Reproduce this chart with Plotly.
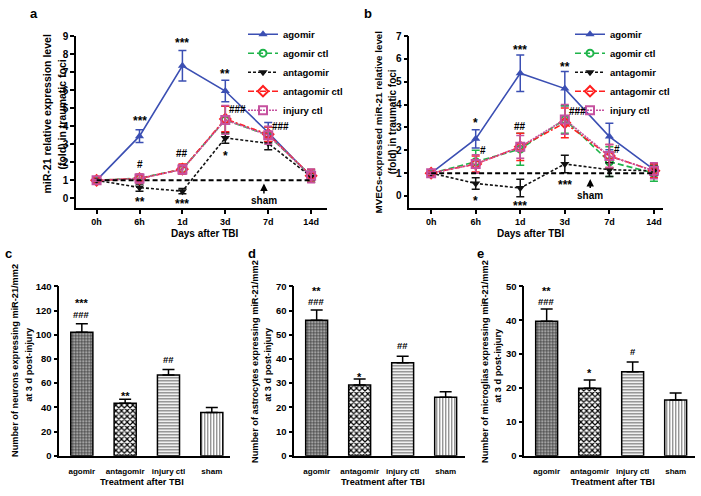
import plotly.graph_objects as go

# ---------------- data ----------------
times = ["0h", "6h", "1d", "3d", "7d", "14d"]

# panel a: miR-21 relative expression level (fold) in traumatic foci
a_agomir = [1.0, 3.45, 7.35, 5.95, 3.65, 1.2]
a_agomir_err = [0.05, 0.35, 0.85, 0.6, 0.55, 0.3]
a_agomir_ctl = [1.0, 1.12, 1.62, 4.35, 3.5, 1.25]
a_agomir_ctl_err = [0.05, 0.2, 0.25, 0.75, 0.45, 0.35]
a_antagomir = [1.0, 0.6, 0.4, 3.35, 3.05, 1.2]
a_antagomir_err = [0.05, 0.2, 0.15, 0.3, 0.35, 0.2]
a_antagomir_ctl = [1.0, 1.1, 1.62, 4.4, 3.55, 1.25]
a_antagomir_ctl_err = [0.05, 0.22, 0.28, 0.7, 0.4, 0.35]
a_injury_ctl = [1.0, 1.1, 1.6, 4.35, 3.5, 1.25]
a_injury_ctl_err = [0.05, 0.25, 0.25, 0.8, 0.5, 0.38]
a_sham = [1.0, 1.0, 1.0, 1.0, 1.0, 1.0]

# panel b: MVECs-expressed miR-21 relative level (fold)
b_agomir = [1.0, 2.5, 5.37, 4.7, 2.6, 1.15]
b_agomir_err = [0.05, 0.4, 0.8, 0.75, 0.58, 0.25]
b_agomir_ctl = [1.0, 1.5, 2.05, 3.35, 1.5, 1.0]
b_agomir_ctl_err = [0.05, 0.5, 0.7, 0.6, 0.65, 0.35]
b_antagomir = [1.0, 0.55, 0.35, 1.4, 1.15, 1.1]
b_antagomir_err = [0.05, 0.25, 0.38, 0.38, 0.3, 0.2]
b_antagomir_ctl = [1.0, 1.4, 2.15, 3.2, 1.75, 1.1]
b_antagomir_ctl_err = [0.05, 0.35, 0.6, 0.65, 0.5, 0.3]
b_injury_ctl = [1.0, 1.4, 2.15, 3.35, 1.75, 1.1]
b_injury_ctl_err = [0.05, 0.4, 0.5, 0.65, 0.5, 0.35]
b_sham = [1.0, 1.0, 1.0, 1.0, 1.0, 1.0]

# panels c, d, e: cells expressing miR-21 / mm2 at 3 d post-injury
bar_cats = ["agomir", "antagomir", "injury ctl", "sham"]
c_neurons = [102, 43.5, 66.8, 35.8]
c_neurons_err = [7, 3.3, 4.5, 4]
d_astro = [56, 29.2, 38.4, 24.2]
d_astro_err = [4.2, 2.5, 2.7, 2.3]
e_micro = [39.7, 19.9, 24.8, 16.5]
e_micro_err = [3.6, 2.5, 2.9, 2.0]

# significance labels (text, x, y)
a_marks = [("***", 1, 4.45), ("***", 2, 8.8), ("**", 3, 7.05), ("#", 1, 1.85),
           ("##", 2, 2.5), ("###", 3.28, 4.9), ("###", 4.29, 4.0), ("*", 3, 2.5),
           ("**", 1, -0.05), ("***", 2, -0.15)]
b_marks = [("*", 1, 3.32), ("#", 1.16, 2.0), ("***", 2, 6.53), ("##", 2, 3.06),
           ("**", 3, 5.77), ("###", 3.28, 3.68), ("#", 4.16, 2.03), ("***", 3, 0.61),
           ("*", 1, -0.1), ("***", 2, -0.31)]
c_marks = [("***", 0, 129), ("###", 0, 116.5), ("**", 1, 52), ("##", 2, 79.5)]
d_marks = [("**", 0, 69.2), ("###", 0, 63.6), ("*", 1, 33.6), ("##", 2, 45.4)]
e_marks = [("**", 0, 49.4), ("###", 0, 45.6), ("*", 1, 25.2), ("#", 2, 30.8)]

# ---------------- styles ----------------
FONT = "Liberation Sans, Arial, sans-serif"
W, H = 701, 496
BLUE, GREEN, BLACK, RED, MAG = "#3b4fb3", "#1fb44a", "#111111", "#ff1f1f", "#c6519f"

styles = {
    "agomir": dict(color=BLUE, dash="solid", symbol="triangle-up", size=8, mlw=0),
    "agomir ctl": dict(color=GREEN, dash="6px,3px", symbol="circle-open", size=7, mlw=2),
    "antagomir": dict(color=BLACK, dash="3px,2px", symbol="triangle-down", size=8, mlw=0),
    "antagomir ctl": dict(color=RED, dash="6px,2px,2px,2px", symbol="diamond-open", size=8, mlw=2),
    "injury ctl": dict(color=MAG, dash="2px,1px", symbol="square-open", size=8, mlw=2),
}

def px_x(p):
    return p / W

def px_y(p):
    return 1 - p / H

fig = go.Figure()
x_idx = list(range(len(times)))

def add_lines(series, sham, xa, ya, legend):
    for name, vals, err in series:
        s = styles[name]
        fig.add_trace(go.Scatter(
            x=x_idx, y=vals, name=name, mode="lines+markers",
            xaxis=xa, yaxis=ya, legend=legend,
            line=dict(color=s["color"], width=1.6, dash=s["dash"]),
            marker=dict(symbol=s["symbol"], size=s["size"], color=s["color"],
                        line=dict(color=s["color"], width=s["mlw"])),
            error_y=dict(type="data", array=err, color=s["color"], thickness=1.5, width=4),
        ))
    fig.add_trace(go.Scatter(
        x=x_idx, y=sham, name="sham", mode="lines", showlegend=False,
        xaxis=xa, yaxis=ya, line=dict(color="black", width=2, dash="5px,3px"),
    ))

add_lines([("agomir", a_agomir, a_agomir_err),
           ("agomir ctl", a_agomir_ctl, a_agomir_ctl_err),
           ("antagomir", a_antagomir, a_antagomir_err),
           ("antagomir ctl", a_antagomir_ctl, a_antagomir_ctl_err),
           ("injury ctl", a_injury_ctl, a_injury_ctl_err)], a_sham, "x", "y", "legend")
add_lines([("agomir", b_agomir, b_agomir_err),
           ("agomir ctl", b_agomir_ctl, b_agomir_ctl_err),
           ("antagomir", b_antagomir, b_antagomir_err),
           ("antagomir ctl", b_antagomir_ctl, b_antagomir_ctl_err),
           ("injury ctl", b_injury_ctl, b_injury_ctl_err)], b_sham, "x2", "y2", "legend2")

bar_patterns = [
    dict(shape="+", fgcolor="#2e2e2e", bgcolor="#a2a2a2", size=3, solidity=0.35),
    dict(shape="x", fgcolor="#000000", bgcolor="#ffffff", size=4, solidity=0.5),
    dict(shape="-", fgcolor="#6a6a6a", bgcolor="#ffffff", size=3, solidity=0.4),
    dict(shape="|", fgcolor="#6a6a6a", bgcolor="#ffffff", size=3, solidity=0.35),
]

for vals, err, xa, ya in [(c_neurons, c_neurons_err, "x3", "y3"),
                          (d_astro, d_astro_err, "x4", "y4"),
                          (e_micro, e_micro_err, "x5", "y5")]:
    for i, cat in enumerate(bar_cats):
        p = bar_patterns[i]
        fig.add_trace(go.Bar(
            x=[cat], y=[vals[i]], xaxis=xa, yaxis=ya, width=0.51, showlegend=False,
            name=cat,
            marker=dict(color=p["bgcolor"], line=dict(color="black", width=1.5),
                        pattern=dict(shape=p["shape"], fgcolor=p["fgcolor"],
                                     bgcolor=p["bgcolor"], size=p["size"],
                                     solidity=p["solidity"], fillmode="replace")),
            error_y=dict(type="data", array=[err[i]], arrayminus=[0],
                         color="black", thickness=1.5, width=6),
        ))

# ---------------- axes ----------------
tickfont = dict(family=FONT, size=10, color="black", weight="bold")
common = dict(showline=True, linecolor="black", linewidth=1.5, ticks="outside",
              ticklen=4, tickwidth=1.5, tickcolor="black", showgrid=False,
              zeroline=False, tickfont=tickfont)
bar_ytick = {**common, "tickfont": dict(family=FONT, size=9.5, color="black", weight="bold")}
xcat_font = dict(family=FONT, size=8, color="black", weight="bold")
xtime_font = dict(family=FONT, size=9, color="black", weight="bold")
catx = {**common, "tickfont": xcat_font, "ticklen": 7,
        "tickcolor": "rgba(0,0,0,0)", "tickangle": 0}

Y_TOP_LINE = 30.7
Y_BOT_LINE = 206.7
fig.update_layout(
    barmode="overlay",
    xaxis=dict(domain=[px_x(76), px_x(327)], range=[-0.48, 5.37], anchor="y",
               tickvals=x_idx, ticktext=times, **{**common, "tickfont": xtime_font}),
    yaxis=dict(domain=[px_y(Y_BOT_LINE), px_y(Y_TOP_LINE)], range=[-0.54, 9], anchor="x",
               tickvals=list(range(0, 10)), **common),
    xaxis2=dict(domain=[px_x(409.3), px_x(663.3)], range=[-0.49, 5.21], anchor="y2",
                tickvals=x_idx, ticktext=times, **{**common, "tickfont": xtime_font}),
    yaxis2=dict(domain=[px_y(Y_BOT_LINE), px_y(Y_TOP_LINE)], range=[-0.53, 7], anchor="x2",
                tickvals=list(range(0, 8)), **common),
    xaxis3=dict(domain=[px_x(59.3), px_x(230)], range=[-0.52, 3.42], anchor="y3", **catx),
    yaxis3=dict(domain=[px_y(460), px_y(286.7)], range=[0, 140], anchor="x3",
                tickvals=list(range(0, 141, 20)), **bar_ytick),
    xaxis4=dict(domain=[px_x(294.3), px_x(465)], range=[-0.52, 3.45], anchor="y4", **catx),
    yaxis4=dict(domain=[px_y(460), px_y(286.7)], range=[0, 70], anchor="x4",
                tickvals=list(range(0, 71, 10)), **bar_ytick),
    xaxis5=dict(domain=[px_x(524.3), px_x(695)], range=[-0.52, 3.45], anchor="y5", **catx),
    yaxis5=dict(domain=[px_y(460), px_y(286.7)], range=[0, 50], anchor="x5",
                tickvals=list(range(0, 51, 10)), **bar_ytick),
)

legend_font = dict(family=FONT, size=9.5, color="black", weight="bold")
fig.update_layout(
    width=W, height=H, margin=dict(l=0, r=0, t=0, b=0),
    paper_bgcolor="white", plot_bgcolor="white",
    legend=dict(x=px_x(243), y=px_y(14), xanchor="left", yanchor="top",
                font=legend_font, bgcolor="rgba(0,0,0,0)", tracegroupgap=0),
    legend2=dict(x=px_x(570), y=px_y(14), xanchor="left", yanchor="top",
                 font=legend_font, bgcolor="rgba(0,0,0,0)", tracegroupgap=0),
)

# ---------------- annotations ----------------
ann = []

def add_marks(marks, xr, yr, star_size=12, hash_size=10):
    for t, x, y in marks:
        star = "*" in t
        ann.append(dict(text=t, x=x, y=y, xref=xr, yref=yr, showarrow=False,
                        font=dict(family=FONT, size=star_size if star else hash_size,
                                  color="black", weight="bold"),
                        xanchor="center", yanchor="middle",
                        yshift=-3 if star else 0))

add_marks(a_marks, "x", "y")
add_marks(b_marks, "x2", "y2")
add_marks(c_marks, "x3", "y3", 11, 9.5)
add_marks(d_marks, "x4", "y4", 11, 9.5)
add_marks(e_marks, "x5", "y5", 11, 9.5)

# sham arrows
ann.append(dict(text="sham", x=3.9, y=0.82, xref="x", yref="y", showarrow=True,
                arrowhead=2, arrowsize=1, arrowwidth=1.5, arrowcolor="black",
                ax=0, ay=17, font=dict(family=FONT, size=10, color="black", weight="bold")))
ann.append(dict(text="sham", x=3.57, y=0.74, xref="x2", yref="y2", showarrow=True,
                arrowhead=2, arrowsize=1, arrowwidth=1.5, arrowcolor="black",
                ax=0, ay=16, font=dict(family=FONT, size=10, color="black", weight="bold")))

def paper_text(t, x, y, angle=0, size=11):
    ann.append(dict(text=t, x=px_x(x), y=px_y(y), xref="paper", yref="paper",
                    showarrow=False, textangle=angle, xanchor="center", yanchor="middle",
                    font=dict(family=FONT, size=size, color="black", weight="bold")))

# axis titles (each line separately, rotated)
paper_text("miR-21 relative expression level", 47, 111, -90, 10.5)
paper_text("(fold) in traumatic foci", 62, 111, -90, 10.5)
paper_text("MVECs-expressed miR-21 relative level", 378, 118, -90, 9.8)
paper_text("(fold) in traumatic foci", 392, 119, -90, 10)
paper_text("Days after TBI", 204, 233, 0, 10)
paper_text("Days after TBI", 530, 233, 0, 10)
paper_text("Number of neurons expressing miR-21/mm2", 15, 363, -90, 9.2)
paper_text("at 3 d post-injury", 29, 367, -90, 9.2)
paper_text("Number of astrocytes expressing miR-21/mm2", 255, 364, -90, 9.2)
paper_text("at 3 d post-injury", 268, 367, -90, 9.2)
paper_text("Number of microglias expressing miR-21/mm2", 485, 364, -90, 9.2)
paper_text("at 3 d post-injury", 498, 367, -90, 9.2)
paper_text("Treatment after TBI", 142, 487, 0, 9.2)
paper_text("Treatment after TBI", 383, 487, 0, 9.2)
paper_text("Treatment after TBI", 613, 487, 0, 9.2)

# panel letters
paper_text("a", 34, 8, 0, 13)
paper_text("b", 368, 8, 0, 13)
paper_text("c", 8, 253, 0, 13)
paper_text("d", 252, 253, 0, 13)
paper_text("e", 480, 253, 0, 13)

fig.update_layout(annotations=ann)
fig.write_html("out.html", config={"displayModeBar": False},
               post_script="document.body.style.margin='0px';")
